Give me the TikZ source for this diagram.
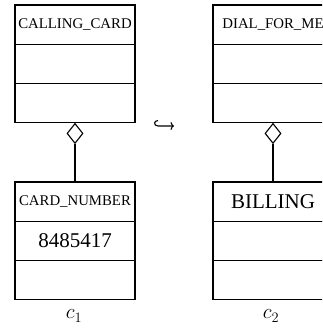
\documentclass[tikz,border=0pt]{standalone}
\usepackage{fontspec}
\setmainfont{Liberation Serif}
\usetikzlibrary{shapes.geometric,arrows.meta}
\begin{document}
\begin{tikzpicture}[x=1pt,y=-1pt,
  comp/.style={draw,line width=1.1pt,minimum width=120pt,minimum height=39.3pt,inner sep=0pt,anchor=north,outer sep=0pt},
  smallname/.style={font=\fontsize{14.8}{16}\selectfont},
  bigname/.style={font=\fontsize{21}{24}\selectfont},
  agg/.style={draw,line width=1.1pt,diamond,shape aspect=0.8,minimum width=16pt,minimum height=20pt,inner sep=0pt,fill=white,anchor=north},
  link/.style={line width=1.1pt},
  hookarrow/.style={line width=1.1pt,-{To[length=3.5pt,width=8pt]}}]
\useasboundingbox (0,0) rectangle (322,328);
\clip (0,0) rectangle (322,328);
% left diagram
\node[comp,smallname] (lt1) at (75,5) {CALLING\_CARD};
\node[comp] (lt2) at (lt1.south) {};
\node[comp] (lt3) at (lt2.south) {};
\node[agg] (ld) at (lt3.south) {};
\node[comp,smallname] (lb1) at (75,182) {CARD\_NUMBER};
\node[comp,bigname] (lb2) at (lb1.south) {8485417};
\node[comp] (lb3) at (lb2.south) {};
\draw[link] (ld.south) -- (lb1.north);
\node[font=\fontsize{21}{24}\selectfont] (l1) at (74,316) {$c_1$};
% right diagram
\node[comp,smallname] (rt1) at (273,5) {DIAL\_FOR\_ME};
\node[comp] (rt2) at (rt1.south) {};
\node[comp] (rt3) at (rt2.south) {};
\node[agg] (rd) at (rt3.south) {};
\node[comp,bigname] (rb1) at (273,182) {BILLING};
\node[comp] (rb2) at (rb1.south) {};
\node[comp] (rb3) at (rb2.south) {};
\draw[link] (rd.south) -- (rb1.north);
\node[font=\fontsize{21}{24}\selectfont] (l2) at (271,316) {$c_2$};
% hook arrow
\coordinate (hk1) at (158,120.5);
\coordinate (hk2) at (158,126);
\coordinate (he) at (174,126);
\draw[hookarrow] (hk1) .. controls (153.5,120.5) and (153.5,126) .. (hk2) -- (he);
\end{tikzpicture}
\end{document}
